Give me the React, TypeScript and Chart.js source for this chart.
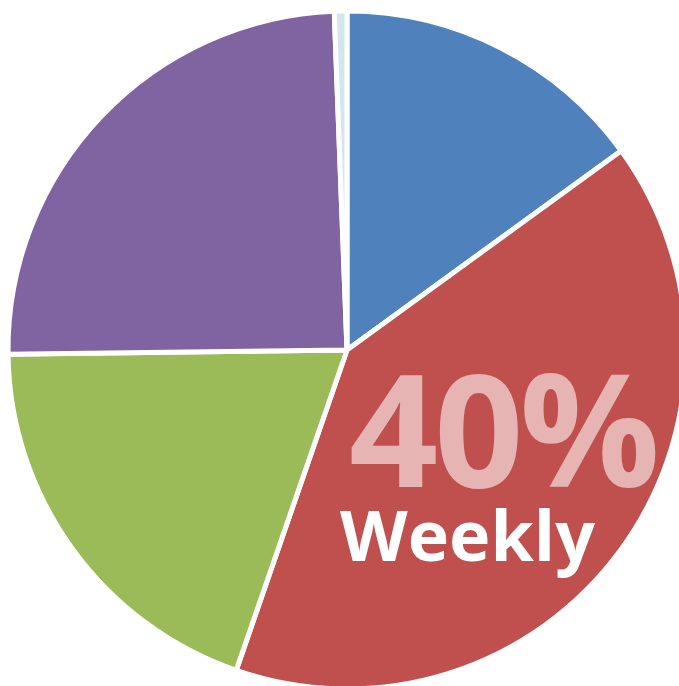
import React, { useEffect, useRef } from "react";
import { Chart, registerables } from "chart.js";

Chart.register(...registerables);

const categories = ["Daily", "Weekly", "Monthly", "Rarely", "Never"];
const values = [15, 40.3, 19.5, 24.6, 0.6];
const colors = ["#4F81BD", "#C0504D", "#9BBB59", "#8064A2", "#D3E6EE"];
const bigLabel = "40%";
const smallLabel = "Weekly";

export default function App() {
  const ref = useRef<HTMLCanvasElement | null>(null);
  useEffect(() => {
    document.body.style.margin = "0";
    document.body.style.overflow = "hidden";
    const chart = new Chart(ref.current!, {
      type: "pie",
      data: {
        labels: categories,
        datasets: [
          {
            data: values,
            backgroundColor: colors,
            borderColor: "#ffffff",
            borderWidth: 5,
          },
        ],
      },
      options: {
        responsive: false,
        animation: false,
        radius: 339,
        layout: { padding: 0 },
        plugins: { legend: { display: false }, tooltip: { enabled: false } },
      },
    });
    return () => chart.destroy();
  }, []);
  return (
    <div
      style={{
        position: "fixed",
        left: 0,
        top: 0,
        width: 679,
        height: 686,
        overflow: "hidden",
        background: "#ffffff",
      }}
    >
      <canvas
        ref={ref}
        width={694}
        height={700}
        style={{ position: "absolute", left: 0, top: 0, width: 694, height: 700 }}
      />
      <div
        style={{
          position: "absolute",
          left: 349,
          top: 349,
          fontFamily: "'Open Sans', sans-serif",
          fontWeight: 700,
          fontSize: 156,
          lineHeight: 1,
          letterSpacing: -4,
          color: "#E6B4B3",
          whiteSpace: "nowrap",
        }}
      >
        {bigLabel}
      </div>
      <div
        style={{
          position: "absolute",
          left: 340,
          top: 499,
          fontFamily: "'Open Sans', sans-serif",
          fontWeight: 700,
          fontSize: 70,
          lineHeight: 1,
          color: "#FFFFFF",
          whiteSpace: "nowrap",
        }}
      >
        {smallLabel}
      </div>
    </div>
  );
}
